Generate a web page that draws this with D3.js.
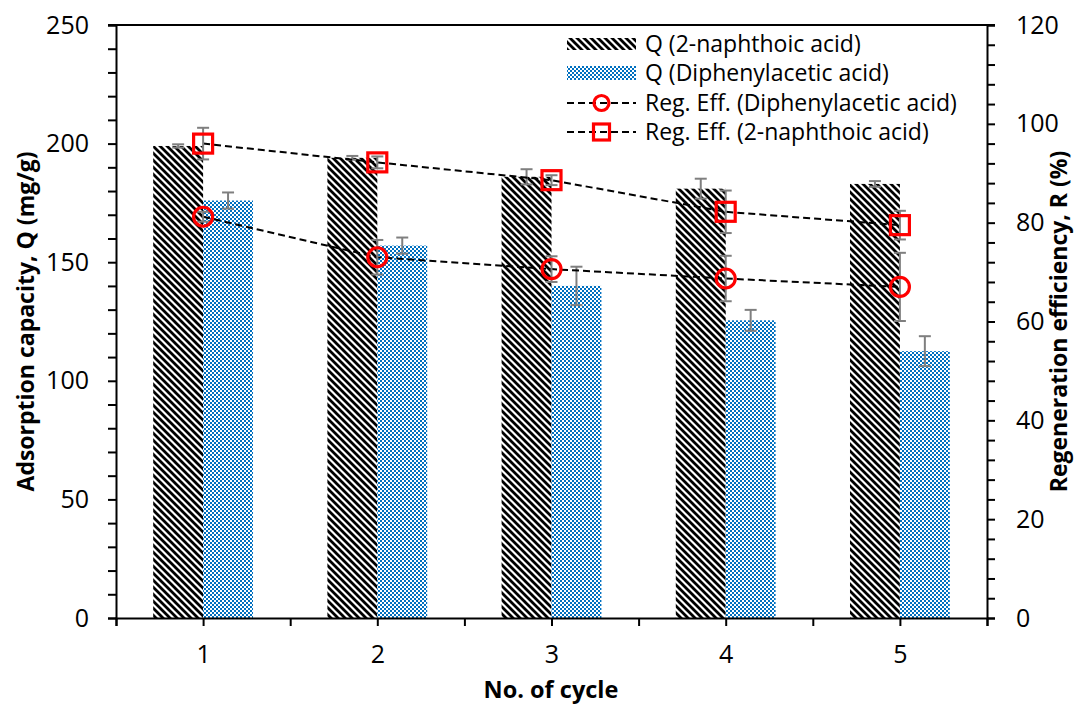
<!DOCTYPE html>
<html>
<head>
<meta charset="utf-8">
<script src="https://cdn.jsdelivr.net/npm/d3@7"></script>
<style>
  html, body { margin: 0; padding: 0; background: #fff; }
  svg { display: block; font-family: "Open Sans", Lato, sans-serif; }
</style>
</head>
<body>
<svg id="chart" width="1078" height="705"></svg>
<script>
// Adsorption capacity and regeneration efficiency over five reuse cycles
const cycles = [1, 2, 3, 4, 5];

const qNaphthoic = [199, 194, 186, 181, 183];
const qNaphthoicErr = [0.7, 0.8, 3.2, 4.2, 1.2];

const qDiphenyl = [176, 157, 140, 125.5, 112.5];
const qDiphenylErr = [3.4, 3.4, 8.1, 4.4, 6.3];

const rNaphthoic = [96.0, 92.2, 88.6, 82.2, 79.5];
const rNaphthoicErr = [3.2, 1.2, 1.0, 4.3, 2.9];

const rDiphenyl = [81.2, 73.0, 70.6, 68.7, 67.0];
const rDiphenylErr = [1.0, 3.5, 2.6, 4.6, 6.9];

const leftTicks = [0, 50, 100, 150, 200, 250];
const rightTicks = [0, 20, 40, 60, 80, 100, 120];

const legendLabels = [
  "Q (2-naphthoic acid)",
  "Q (Diphenylacetic acid)",
  "Reg. Eff. (Diphenylacetic acid)",
  "Reg. Eff. (2-naphthoic acid)"
];

const svg = d3.select("#chart");
const m = { left: 116, right: 987, top: 25, bottom: 618 };

const x = d3.scaleLinear().domain([0.5, 5.5]).range([m.left, m.right]);
const yL = d3.scaleLinear().domain([0, 250]).range([m.bottom, m.top]);
const yR = d3.scaleLinear().domain([0, 120]).range([m.bottom, m.top]);
const barW = (x(1) - x(0.5)) * 0.573;

// fill patterns
const defs = svg.append("defs");
const hatch = defs.append("pattern")
  .attr("id", "hatch").attr("patternUnits", "userSpaceOnUse")
  .attr("width", 7).attr("height", 7);
hatch.append("rect").attr("width", 7).attr("height", 7).attr("fill", "#fff");
hatch.append("path")
  .attr("d", "M-1,-1 L8,8 M-4,3 L4,11 M3,-4 L11,4")
  .attr("stroke", "#000").attr("stroke-width", 2.8);

const check = defs.append("pattern")
  .attr("id", "check").attr("patternUnits", "userSpaceOnUse")
  .attr("width", 4).attr("height", 4);
check.append("rect").attr("width", 4).attr("height", 4).attr("fill", "#0070C0");
check.append("rect").attr("x", 2).attr("y", 0).attr("width", 2).attr("height", 2).attr("fill", "#fff");
check.append("rect").attr("x", 0).attr("y", 2).attr("width", 2).attr("height", 2).attr("fill", "#fff");

// bars
svg.append("g").selectAll("rect").data(cycles).join("rect")
  .attr("x", (d) => x(d) - barW).attr("width", barW)
  .attr("y", (d, i) => yL(qNaphthoic[i]))
  .attr("height", (d, i) => yL(0) - yL(qNaphthoic[i]))
  .attr("fill", "url(#hatch)");

svg.append("g").selectAll("rect").data(cycles).join("rect")
  .attr("x", (d) => x(d)).attr("width", barW)
  .attr("y", (d, i) => yL(qDiphenyl[i]))
  .attr("height", (d, i) => yL(0) - yL(qDiphenyl[i]))
  .attr("fill", "url(#check)");

// error bars
function errorBars(xs, vals, errs, scale) {
  const g = svg.append("g").attr("stroke", "#7f7f7f").attr("stroke-width", 2).attr("fill", "none");
  xs.forEach((cx, i) => {
    const y1 = scale(vals[i] + errs[i]), y2 = scale(vals[i] - errs[i]);
    g.append("line").attr("x1", cx).attr("x2", cx).attr("y1", y1).attr("y2", y2);
    g.append("line").attr("x1", cx - 6).attr("x2", cx + 6).attr("y1", y1).attr("y2", y1);
    g.append("line").attr("x1", cx - 6).attr("x2", cx + 6).attr("y1", y2).attr("y2", y2);
  });
}
errorBars(cycles.map((d) => x(d) - barW / 2), qNaphthoic, qNaphthoicErr, yL);
errorBars(cycles.map((d) => x(d) + barW / 2), qDiphenyl, qDiphenylErr, yL);

// regeneration efficiency lines
const line = (vals) => d3.line().x((d) => x(d)).y((d, i) => yR(vals[i]))(cycles);
[rNaphthoic, rDiphenyl].forEach((vals) => {
  svg.append("path").attr("d", line(vals))
    .attr("fill", "none").attr("stroke", "#000")
    .attr("stroke-width", 2).attr("stroke-dasharray", "7,4");
});
errorBars(cycles.map((d) => x(d)), rNaphthoic, rNaphthoicErr, yR);
errorBars(cycles.map((d) => x(d)), rDiphenyl, rDiphenylErr, yR);

svg.append("g").selectAll("rect").data(cycles).join("rect")
  .attr("x", (d) => x(d) - 9.5).attr("y", (d, i) => yR(rNaphthoic[i]) - 9.5)
  .attr("width", 19).attr("height", 19)
  .attr("fill", "none").attr("stroke", "#ff0000").attr("stroke-width", 3.2);

svg.append("g").selectAll("circle").data(cycles).join("circle")
  .attr("cx", (d) => x(d)).attr("cy", (d, i) => yR(rDiphenyl[i]))
  .attr("r", 9.5)
  .attr("fill", "none").attr("stroke", "#ff0000").attr("stroke-width", 3.2);

// axes
const axisStyle = (g) => {
  g.select(".domain").attr("stroke", "#000").attr("stroke-width", 2);
  g.selectAll(".tick line").attr("stroke", "#000").attr("stroke-width", 2);
  g.selectAll(".tick text").attr("font-size", 25).attr("fill", "#000")
    .attr("font-family", "'Open Sans', Lato, sans-serif");
};

const xTickVals = d3.range(0.5, 5.51, 0.5);
svg.append("g").attr("transform", `translate(0,${m.bottom})`)
  .call(d3.axisBottom(x).tickValues(xTickVals).tickSizeOuter(0).tickSize(8).tickPadding(19)
    .tickFormat((d) => (Number.isInteger(d) ? d : "")))
  .call(axisStyle);

const leftMinor = d3.range(0, 251, 10);
svg.append("g").attr("transform", `translate(${m.left},0)`)
  .call(d3.axisLeft(yL).tickValues(leftMinor).tickSizeOuter(0).tickSize(8).tickPadding(19)
    .tickFormat((d) => (leftTicks.includes(d) ? d : "")))
  .call(axisStyle);

const rightMinor = d3.range(0, 121, 4);
svg.append("g").attr("transform", `translate(${m.right},0)`)
  .call(d3.axisRight(yR).tickValues(rightMinor).tickSizeOuter(0).tickSize(8).tickPadding(21)
    .tickFormat((d) => (rightTicks.includes(d) ? d : "")))
  .call(axisStyle);

// top border
svg.append("line").attr("x1", m.left - 8).attr("x2", m.right + 8)
  .attr("y1", m.top).attr("y2", m.top).attr("stroke", "#000").attr("stroke-width", 2);

// axis titles
svg.append("text").attr("x", 551).attr("y", 698).attr("text-anchor", "middle")
  .attr("font-size", 23.5).attr("font-weight", "bold").text("No. of cycle");
svg.append("text").attr("transform", `translate(34,${(m.top + m.bottom) / 2}) rotate(-90)`)
  .attr("text-anchor", "middle").attr("font-size", 23).attr("font-weight", "bold")
  .text("Adsorption capacity, Q (mg/g)");
svg.append("text").attr("transform", `translate(1067,${(m.top + m.bottom) / 2}) rotate(-90)`)
  .attr("text-anchor", "middle").attr("font-size", 23).attr("font-weight", "bold")
  .text("Regeneration efficiency, R (%)");

// legend
const leg = svg.append("g");
const rowY = [44, 73, 103, 132];
const sx0 = 567, sx1 = 636, tx = 645;
leg.append("rect").attr("x", sx0).attr("y", rowY[0] - 6).attr("width", sx1 - sx0).attr("height", 12).attr("fill", "url(#hatch)");
leg.append("rect").attr("x", sx0).attr("y", rowY[1] - 7).attr("width", sx1 - sx0).attr("height", 14).attr("fill", "url(#check)");
[2, 3].forEach((k) => {
  leg.append("line").attr("x1", sx0).attr("x2", sx1).attr("y1", rowY[k]).attr("y2", rowY[k])
    .attr("stroke", "#000").attr("stroke-width", 2).attr("stroke-dasharray", "7,4");
});
const mx = (sx0 + sx1) / 2;
leg.append("circle").attr("cx", mx).attr("cy", rowY[2]).attr("r", 7.5)
  .attr("fill", "none").attr("stroke", "#ff0000").attr("stroke-width", 3.2);
leg.append("rect").attr("x", mx - 8).attr("y", rowY[3] - 8).attr("width", 16).attr("height", 16)
  .attr("fill", "none").attr("stroke", "#ff0000").attr("stroke-width", 3.2);
leg.selectAll("text").data(legendLabels).join("text")
  .attr("x", tx).attr("y", (d, i) => rowY[i] + 8)
  .attr("font-size", 23).attr("fill", "#000").text((d) => d);
</script>
</body>
</html>
